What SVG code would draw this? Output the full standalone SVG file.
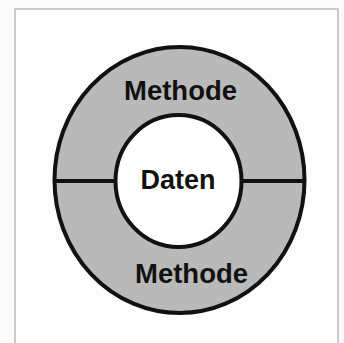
<svg xmlns="http://www.w3.org/2000/svg" width="344" height="343" viewBox="0 0 344 343">
<style>
.lbl{font-family:"Liberation Sans",Arial,sans-serif;font-weight:bold;fill:#111;}
.ln{stroke:#111;stroke-width:4;}
</style>
<rect x="0" y="0" width="344" height="343" fill="#fbfbfb"/>
<rect x="15" y="9" width="323" height="340" fill="#fdfdfd" stroke="#9a9a9a" stroke-width="1"/>
<g id="methode-ring">
<ellipse cx="179.5" cy="180" rx="125" ry="133" fill="#b9b9b9" class="ln"/>
<line x1="54.5" y1="181" x2="304.5" y2="181" class="ln"/>
<text x="180.5" y="100" class="lbl" font-size="27" text-anchor="middle" textLength="113" lengthAdjust="spacingAndGlyphs">Methode</text>
<text x="191.5" y="283" class="lbl" font-size="27" text-anchor="middle" textLength="113" lengthAdjust="spacingAndGlyphs">Methode</text>
</g>
<g id="daten">
<ellipse cx="178.5" cy="181" rx="63" ry="66" fill="#ffffff" class="ln"/>
<text x="178" y="189" class="lbl" font-size="27" text-anchor="middle">Daten</text>
</g>
</svg>
